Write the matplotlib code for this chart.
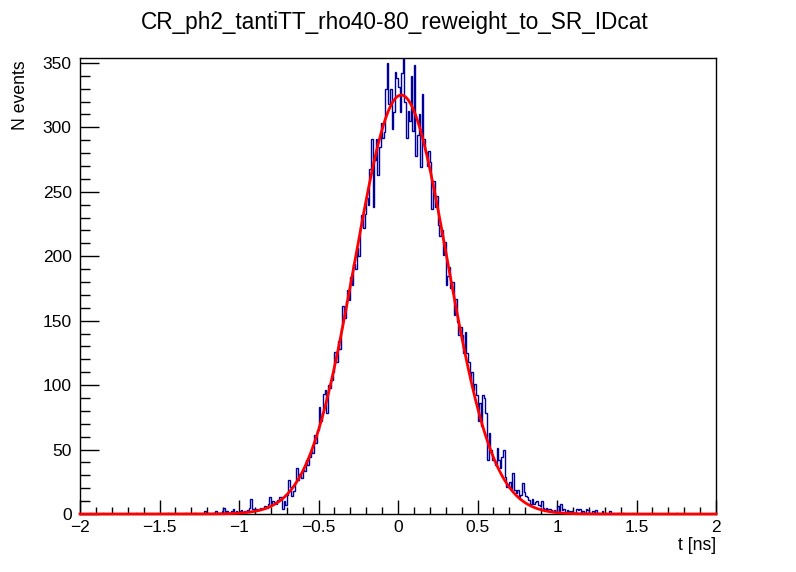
import numpy as np
import matplotlib
matplotlib.use('Agg')
import matplotlib.pyplot as plt
from matplotlib.ticker import MultipleLocator

plt.rcParams['font.family'] = ['Liberation Sans', 'DejaVu Sans']

title = "CR_ph2_tantiTT_rho40-80_reweight_to_SR_IDcat"

# 400 bins from -2 to 2 ns (width 0.01)
bin_lo, bin_hi, n_bins = -2.0, 2.0, 400
counts = [
    0, 0, 0, 0, 0, 0, 1, 0, 0, 0,
    0, 0, 0, 0, 1, 0, 0, 0, 0, 0,
    0, 0, 0, 0, 0, 0, 0, 0, 0, 0,
    0, 0, 0, 0, 0, 1, 0, 0, 0, 0,
    0, 0, 0, 0, 0, 0, 0, 0, 0, 0,
    0, 0, 0, 0, 0, 1, 0, 0, 0, 0,
    0, 0, 0, 0, 0, 0, 1, 0, 0, 0,
    0, 0, 1, 0, 0, 0, 0, 0, 2, 0,
    1, 0, 0, 1, 0, 2, 0, 1, 1, 2,
    5, 1, 2, 0, 1, 2, 4, 1, 2, 1,
    2, 3, 1, 2, 2, 3, 5, 12, 4, 4,
    3, 4, 3, 5, 4, 4, 6, 5, 8, 13,
    7, 10, 9, 8, 11, 13, 13, 4, 10, 7,
    15, 26, 21, 14, 18, 24, 36, 26, 31, 28,
    35, 33, 42, 38, 44, 50, 47, 61, 55, 65,
    83, 72, 78, 93, 96, 78, 100, 98, 104, 110,
    126, 118, 134, 128, 144, 161, 152, 165, 174, 166,
    184, 178, 194, 190, 206, 200, 223, 232, 222, 233,
    245, 240, 268, 291, 238, 275, 291, 263, 285, 303,
    292, 296, 330, 350, 318, 330, 299, 312, 343, 338,
    331, 312, 342, 358, 320, 292, 313, 305, 340, 297,
    348, 278, 294, 310, 269, 326, 291, 281, 270, 282,
    273, 237, 258, 238, 247, 224, 216, 220, 201, 211,
    178, 185, 192, 175, 180, 154, 167, 149, 139, 145,
    139, 125, 141, 125, 118, 104, 110, 96, 101, 92,
    72, 86, 68, 92, 90, 78, 42, 63, 50, 42,
    42, 38, 51, 42, 36, 44, 50, 29, 21, 22,
    25, 19, 32, 19, 16, 19, 13, 15, 24, 17,
    14, 13, 11, 8, 12, 8, 9, 10, 7, 6,
    10, 5, 4, 5, 4, 4, 3, 2, 3, 2,
    6, 2, 8, 3, 4, 1, 3, 2, 1, 2,
    0, 1, 4, 3, 4, 1, 2, 0, 4, 3,
    1, 0, 2, 1, 3, 0, 1, 0, 2, 0,
    1, 0, 0, 2, 0, 1, 0, 0, 1, 0,
    0, 1, 0, 0, 0, 0, 0, 1, 0, 0,
    0, 0, 0, 0, 0, 0, 0, 0, 0, 1,
    0, 0, 0, 0, 0, 0, 0, 0, 0, 0,
    0, 0, 0, 0, 0, 1, 0, 0, 0, 0,
    0, 0, 0, 0, 0, 0, 0, 0, 0, 0,
    0, 0, 0, 0, 0, 0, 0, 0, 0, 0,
]

# gaussian fit parameters
fit_const = 325.0
fit_mean = 0.02
fit_sigma = 0.29

x_ticks = [-2, -1.5, -1, -0.5, 0, 0.5, 1, 1.5, 2]
x_ticklabels = ["\u22122", "\u22121.5", "\u22121", "\u22120.5", "0", "0.5", "1", "1.5", "2"]
y_ticks = [0, 50, 100, 150, 200, 250, 300, 350]

W, H = 796, 572
fig = plt.figure(figsize=(W / 100, H / 100), dpi=100)
ax = fig.add_axes([80 / W, 58 / H, 636 / W, 456.3 / H])

edges = np.linspace(bin_lo, bin_hi, n_bins + 1)
ax.stairs(counts, edges, color='#000099', lw=1, zorder=2)

xf = np.linspace(bin_lo, bin_hi, 800)
yf = fit_const * np.exp(-0.5 * ((xf - fit_mean) / fit_sigma) ** 2)
ax.plot(xf, yf, color='#ff0000', lw=2, zorder=3, clip_on=False)

ax.set_xlim(-2, 2)
ax.set_ylim(0, 354)
ax.set_xticks(x_ticks)
ax.set_xticklabels(x_ticklabels)
ax.set_yticks(y_ticks)
ax.xaxis.set_minor_locator(MultipleLocator(0.1))
ax.yaxis.set_minor_locator(MultipleLocator(10))

ax.tick_params(axis='x', which='major', direction='in', length=9.9, width=1,
               labelsize=12.5, pad=4, top=False)
ax.tick_params(axis='x', which='minor', direction='in', length=5, width=1, top=False)
ax.tick_params(axis='y', which='major', direction='in', length=13.7, width=1,
               labelsize=12.5, pad=6, right=False)
ax.tick_params(axis='y', which='minor', direction='in', length=7, width=1, right=False)
for s in ax.spines.values():
    s.set_linewidth(1)

fig.text(395 / W, 1 - 22 / H, title, ha='center', va='center', fontsize=16.3)
fig.text(20.5 / W, 1 - 60 / H, 'N events', rotation=90, ha='center', va='top', fontsize=12.7)
fig.text(716 / W, 1 - 546 / H, 't [ns]', ha='right', va='center', fontsize=12.7)

fig.savefig('out.png', dpi=100)
